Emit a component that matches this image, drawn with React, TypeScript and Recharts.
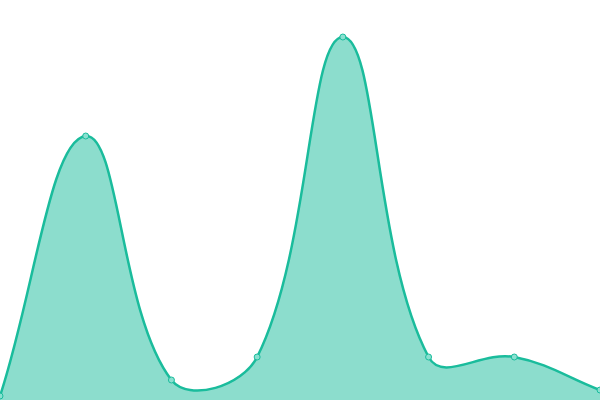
import React from "react";
import { Area, AreaChart, XAxis, YAxis } from "recharts";

const categories = ["A", "B", "C", "D", "E", "F", "G", "H"];
const values = [4, 264, 20, 43, 363, 43, 43, 10];

const data = categories.map((name, i) => ({ name, value: values[i] }));

const lineColor = "#1abc9c";

// smooth bezier like the reference: control points follow the neighbour vector,
// split by the lengths of the two segments
const smoothCurve = (context: any) => {
  let line = NaN;
  let pts: number[][] = [];
  const s = 0.4;
  return {
    areaStart() {
      line = 0;
    },
    areaEnd() {
      line = NaN;
    },
    lineStart() {
      pts = [];
    },
    point(x: number, y: number) {
      pts.push([+x, +y]);
    },
    lineEnd() {
      const n = pts.length;
      if (n) {
        const cpIn: number[][] = [];
        const cpOut: number[][] = [];
        for (let i = 0; i < n; i++) {
          const p = pts[i];
          const prev = pts[i - 1] || p;
          const next = pts[i + 1] || p;
          const vx = next[0] - prev[0];
          const vy = next[1] - prev[1];
          const d0 = Math.hypot(p[0] - prev[0], p[1] - prev[1]);
          const d1 = Math.hypot(next[0] - p[0], next[1] - p[1]);
          const ratio = d0 + d1 > 0 ? d1 / (d0 + d1) : 0.5;
          cpOut.push([p[0] + vx * s * ratio, p[1] + vy * s * ratio]);
          cpIn.push([p[0] - vx * s * (1 - ratio), p[1] - vy * s * (1 - ratio)]);
        }
        if (line) context.lineTo(pts[0][0], pts[0][1]);
        else context.moveTo(pts[0][0], pts[0][1]);
        for (let i = 0; i < n - 1; i++) {
          const a = cpOut[i];
          const b = cpIn[i + 1];
          const q = pts[i + 1];
          context.bezierCurveTo(a[0], a[1], b[0], b[1], q[0], q[1]);
        }
      }
      if (line || (line !== 0 && n === 1)) context.closePath();
      line = 1 - line;
    },
  };
};

export default function App() {
  return (
    <div style={{ position: "fixed", left: 0, top: 0 }}>
      <AreaChart width={600} height={400} data={data} margin={{ top: 0, right: 0, bottom: 0, left: 0 }}>
        <XAxis dataKey="name" hide padding={{ left: 0, right: 0 }} />
        <YAxis hide domain={[0, 400]} />
        <Area
          type={smoothCurve as any}
          dataKey="value"
          stroke={lineColor}
          strokeWidth={2.5}
          fill={lineColor}
          fillOpacity={0.5}
          dot={{ r: 3, fill: "#8ae0d0", stroke: lineColor, strokeWidth: 1, fillOpacity: 1 }}
          activeDot={false}
          isAnimationActive={false}
        />
      </AreaChart>
    </div>
  );
}
